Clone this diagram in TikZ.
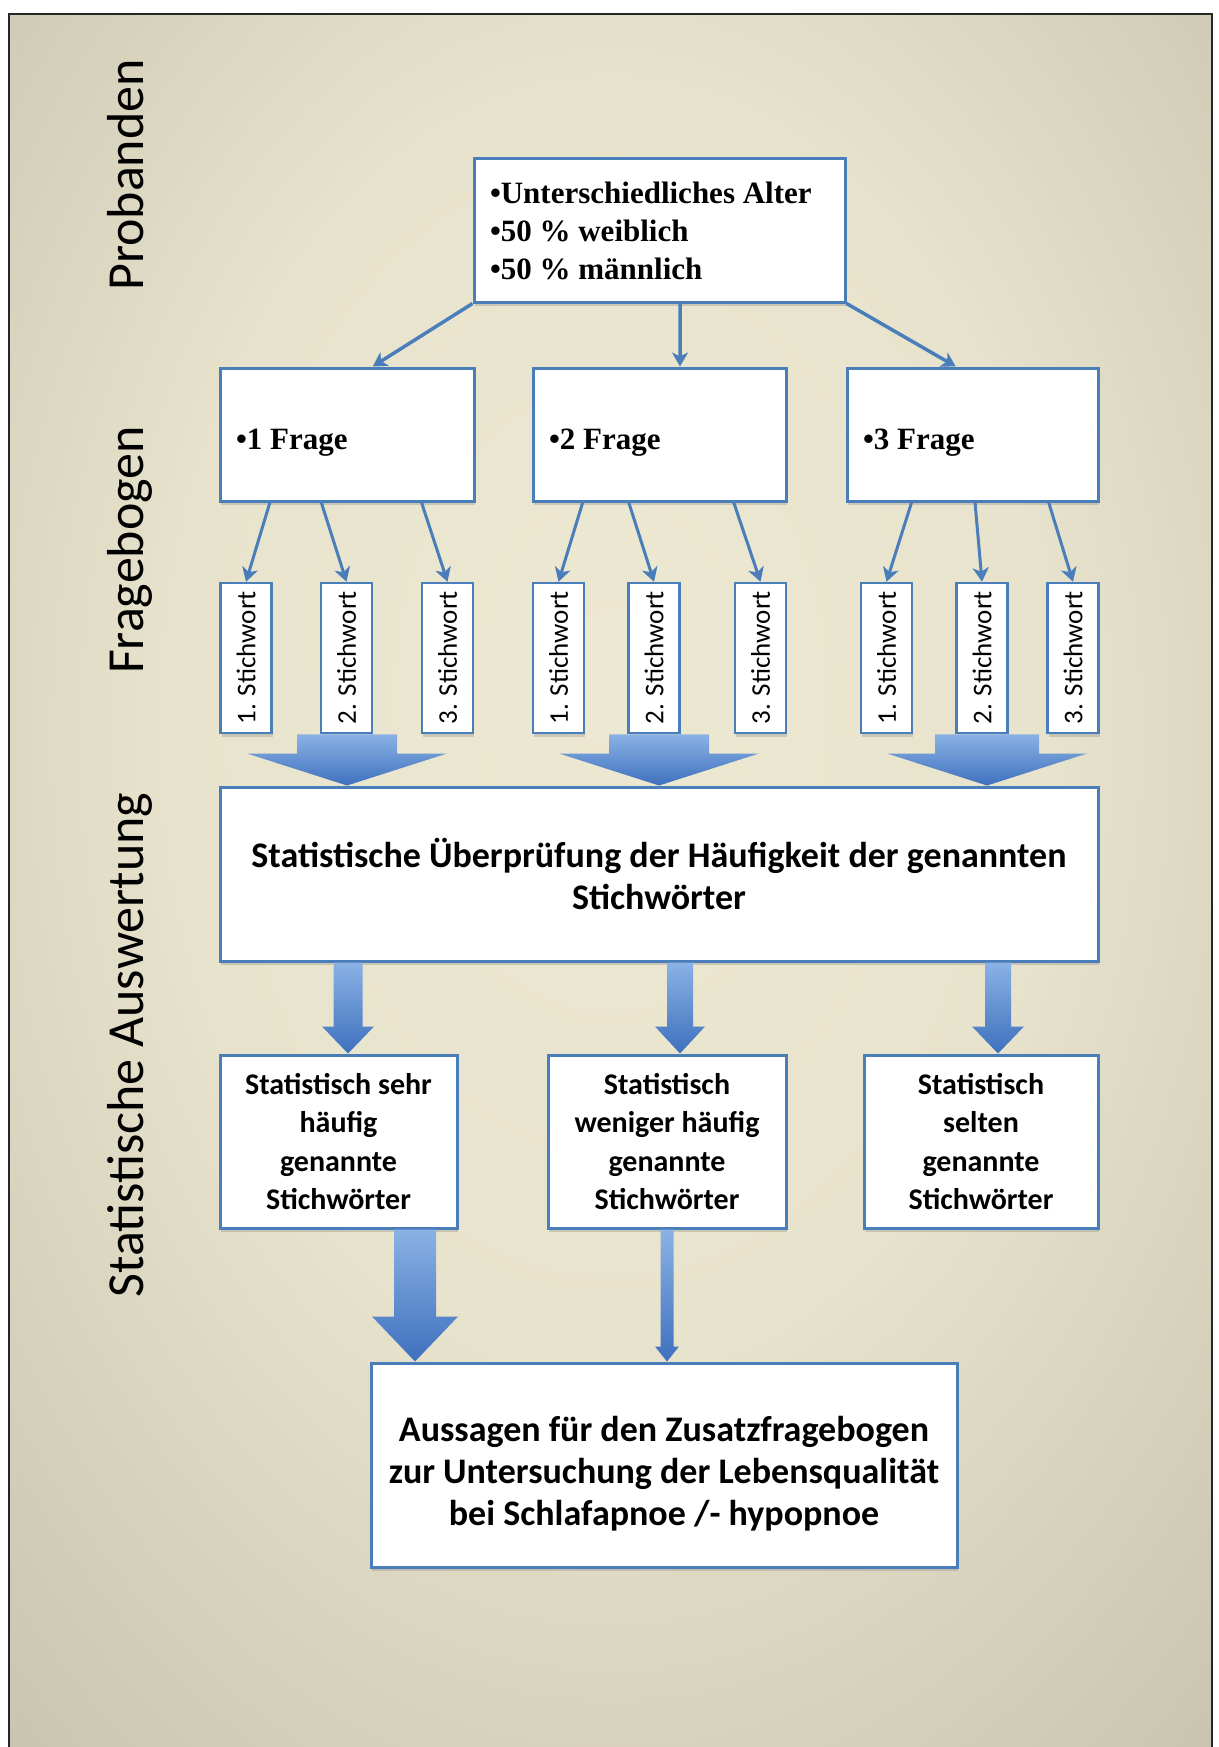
\documentclass[tikz,border=0pt]{standalone}
\usepackage{fontspec}
\setmainfont{Liberation Serif}
\newfontfamily\calib{Carlito}
\usetikzlibrary{arrows.meta,shadows,calc}
\definecolor{boxblue}{RGB}{74,126,187}
\definecolor{arrowlight}{RGB}{138,178,228}
\definecolor{arrowdark}{RGB}{62,112,190}
\pgfdeclareradialshading{bgshade}{\pgfpoint{0bp}{6bp}}{%
  rgb(0bp)=(0.93,0.91,0.82);
  rgb(18bp)=(0.91,0.89,0.80);
  rgb(36bp)=(0.80,0.78,0.70);
  rgb(52bp)=(0.70,0.68,0.61);
  rgb(72bp)=(0.65,0.635,0.575)}
\tikzset{
  box/.style={draw=boxblue, line width=3pt, fill=white, inner sep=0pt,
    drop shadow={shadow xshift=1pt, shadow yshift=-4pt, opacity=0.3}},
  skw/.style={box, line width=2.5pt, minimum width=51pt, minimum height=150pt,
    font=\calib\fontsize{27}{30}\selectfont},
  serifbox/.style={box, align=flush left, font=\bfseries\fontsize{31}{38}\selectfont},
  calbox/.style={box, align=center, font=\calib\bfseries\fontsize{36}{42}\selectfont},
  resbox/.style={box, align=center, minimum height=173pt,
    font=\calib\bfseries\fontsize{30}{38.5}\selectfont},
  sidelabel/.style={rotate=90, anchor=base, inner sep=0pt,
    font=\calib\fontsize{52}{60}\selectfont},
  thinarrow/.style={draw=boxblue, line width=3pt,
    -{Stealth[length=14pt,width=16pt,inset=4pt]}},
  toparrow/.style={thinarrow, line width=3.5pt},
  fatshade/.style={top color=arrowlight, bottom color=arrowdark},
  fragetext/.style={serifbox, minimum height=133pt, text height=39pt, text depth=10pt}
}
\newcommand\fatarrow[5]{%
  \shade[fatshade] let \p1=#1, \p2=#2 in
    (\x1-#3pt,\y1) -- (\x1+#3pt,\y1) -- (\x1+#3pt,\y2+#5pt) -- (\x1+#4pt,\y2+#5pt)
    -- (\x1,\y2) -- (\x1-#4pt,\y2+#5pt) -- (\x1-#3pt,\y2+#5pt) -- cycle;}
\begin{document}
\begin{tikzpicture}[x=1pt,y=-1pt]
\useasboundingbox (0,0) rectangle (1218,1747);
\fill[white] (0,0) rectangle (1218,1747);
\shade[shading=bgshade] (9,14) rectangle (1212,1747);
\draw[line width=2pt, black!85] (9,1760) -- (9,14) -- (1212,14) -- (1212,1760);

% side labels
\node[sidelabel] (lp) at (143,175) {Probanden};
\node[sidelabel] (lf) at (143,550) {Fragebogen};
\node[sidelabel] (ls) at (143,1045) {Statistische Auswertung};

% top box
\node[serifbox, minimum width=371pt, minimum height=143pt, text width=339pt] (top) at (659.5,230.5)
  {•Unterschiedliches Alter\\•50 \% weiblich\\•50 \% männlich};

% question boxes
\node[fragetext, minimum width=254pt, text width=222pt] (f1) at (347,434.5) {•1 Frage};
\node[fragetext, minimum width=253pt, text width=221pt] (f2) at (659.5,434.5) {•2 Frage};
\node[fragetext, minimum width=251pt, text width=219pt] (f3) at (972.5,434.5) {•3 Frage};

% keyword boxes
\node[skw] (s11) at (246,658)   {\rotatebox{90}{1. Stichwort}};
\node[skw] (s12) at (346.5,658) {\rotatebox{90}{2. Stichwort}};
\node[skw] (s13) at (447.5,658) {\rotatebox{90}{3. Stichwort}};
\node[skw] (s21) at (558.5,658) {\rotatebox{90}{1. Stichwort}};
\node[skw] (s22) at (654,658)   {\rotatebox{90}{2. Stichwort}};
\node[skw] (s23) at (760.5,658) {\rotatebox{90}{3. Stichwort}};
\node[skw] (s31) at (886.5,658) {\rotatebox{90}{1. Stichwort}};
\node[skw] (s32) at (982,658)   {\rotatebox{90}{2. Stichwort}};
\node[skw] (s33) at (1073,658)  {\rotatebox{90}{3. Stichwort}};

% statistics box
\node[calbox, minimum width=878pt, minimum height=174pt] (stat) at (659,874)
  {Statistische Überprüfung der Häufigkeit der genannten\\Stichwörter};

% result boxes
\node[resbox, minimum width=237pt] (r1) at (338.5,1141.5) {Statistisch sehr\\häufig\\genannte\\Stichwörter};
\node[resbox, minimum width=238pt] (r2) at (667,1141.5) {Statistisch\\weniger häufig\\genannte\\Stichwörter};
\node[resbox, minimum width=234pt] (r3) at (981,1141.5) {Statistisch\\selten\\genannte\\Stichwörter};

% final box
\node[calbox, minimum width=586pt, minimum height=204pt] (fin) at (664,1465)
  {\rule{0pt}{43pt}Aussagen für den Zusatzfragebogen\\zur Untersuchung der Lebensqualität\\bei Schlafapnoe /- hypopnoe};

% arrows from top box
\draw[toparrow] (top.south west) -- ($(f1.north west)!0.6!(f1.north east)$);
\draw[toparrow] ($(top.south west)!0.555!(top.south east)$) -- ($(f2.north west)!0.58!(f2.north east)$);
\draw[toparrow] (top.south east) -- ($(f3.north west)!0.434!(f3.north east)$);

% arrows from question boxes to keywords
\draw[thinarrow] ($(f1.south west)!0.20!(f1.south east)$) -- (s11.north);
\draw[thinarrow] ($(f1.south west)!0.40!(f1.south east)$) -- (s12.north);
\draw[thinarrow] ($(f1.south west)!0.79!(f1.south east)$) -- (s13.north);
\draw[thinarrow] ($(f2.south west)!0.20!(f2.south east)$) -- (s21.north);
\draw[thinarrow] ($(f2.south west)!0.38!(f2.south east)$) -- (s22.north);
\draw[thinarrow] ($(f2.south west)!0.79!(f2.south east)$) -- (s23.north);
\draw[thinarrow] ($(f3.south west)!0.26!(f3.south east)$) -- (s31.north);
\draw[thinarrow] ($(f3.south west)!0.51!(f3.south east)$) -- (s32.north);
\draw[thinarrow] ($(f3.south west)!0.80!(f3.south east)$) -- (s33.north);

% wide block arrows into statistics box
\coordinate (xw1) at (347,0);
\coordinate (xw2) at (659,0);
\coordinate (xw3) at (987,0);
\fatarrow{(s12.south -| xw1)}{(stat.north -| xw1)}{50}{100}{32}
\fatarrow{(s22.south -| xw2)}{(stat.north -| xw2)}{50}{100}{32}
\fatarrow{(s32.south -| xw3)}{(stat.north -| xw3)}{52}{100}{32}

% block arrows to result boxes
\coordinate (xa1) at (348,0);
\coordinate (xa2) at (680,0);
\coordinate (xa3) at (998,0);
\fatarrow{(stat.south -| xa1)}{(r1.north -| xa1)}{14.5}{26}{27}
\fatarrow{(stat.south -| xa2)}{(r2.north -| xa2)}{13}{25}{27}
\fatarrow{(stat.south -| xa3)}{(r3.north -| xa3)}{13}{26}{27}

% arrows to final box
\coordinate (xb1) at (415,0);
\coordinate (xb2) at (667,0);
\fatarrow{(r1.south -| xb1)}{(fin.north -| xb1)}{21}{43}{45}
\fatarrow{(r2.south -| xb2)}{(fin.north -| xb2)}{6.5}{12}{15}
\end{tikzpicture}
\end{document}
